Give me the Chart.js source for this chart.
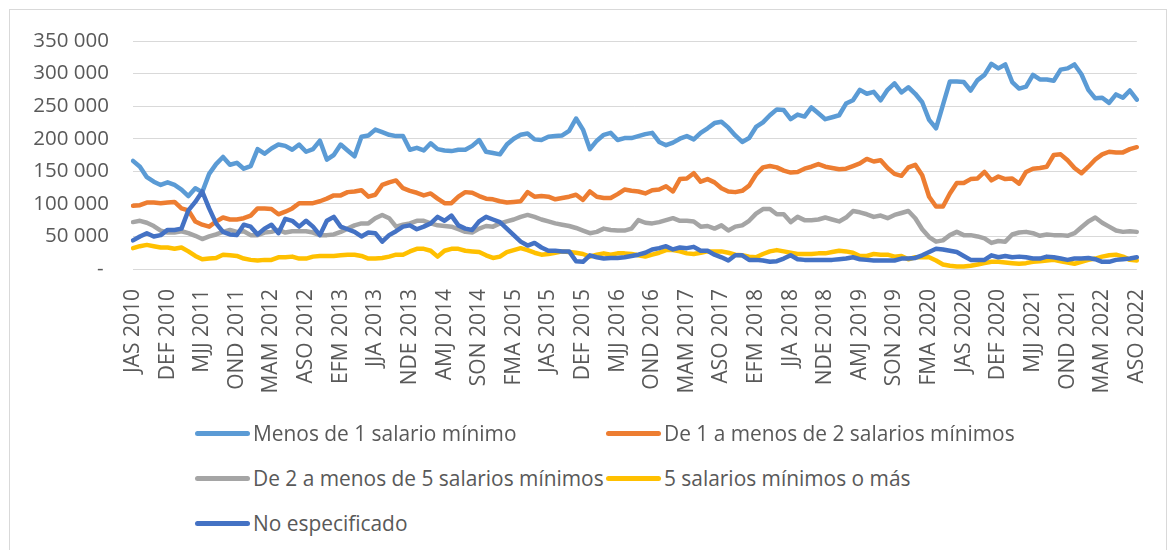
<!DOCTYPE html>
<html>
<head>
<meta charset="utf-8">
<script src="https://cdn.jsdelivr.net/npm/chart.js@4.4.1/dist/chart.umd.min.js"></script>
<style>
  body { margin: 0; background: #fff; font-family: 'Open Sans', sans-serif; }
  #frame { position: absolute; left: 9px; top: 9px; width: 1156px; height: 560px; border: 1px solid #d9d9d9; }
  #myChart { position: absolute; left: 0; top: 0; }
  .item { position: absolute; display: flex; align-items: center; font-size: 20.9px; color: #595959; white-space: nowrap; }
  .swatch { width: 55px; height: 5px; border-radius: 3px; margin-right: 3px; }
</style>
</head>
<body>
<div id="frame"></div>
<canvas id="myChart" width="1174" height="420"></canvas>
<div id="legend"></div>
<script>
// rolling quarters JAS 2010 .. ASO 2022, year = year of first month
const quarterCodes = ['EFM', 'FMA', 'MAM', 'AMJ', 'MJJ', 'JJA', 'JAS', 'ASO', 'SON', 'OND', 'NDE', 'DEF'];
const labels = [];
for (let m = 6; m <= 12 * 12 + 7; m++) {
    labels.push(quarterCodes[m % 12] + ' ' + (2010 + Math.floor(m / 12)));
}

const menos1 = [166000, 157000, 141000, 134000, 129000, 133000, 129000, 122000, 112000, 124000,
    118000, 146000, 161000, 172000, 160000, 163000, 154000, 158000, 184000, 177000,
    185000, 191000, 189000, 183000, 191000, 180000, 184000, 197000, 168000, 175000,
    191000, 182000, 173000, 203000, 205000, 214000, 210000, 206000, 204000, 204000,
    183000, 186000, 182000, 193000, 184000, 182000, 181000, 183000, 183000, 189000,
    198000, 180000, 178000, 176000, 191000, 200000, 206000, 208000, 199000, 198000,
    203000, 204000, 205000, 212000, 231000, 214000, 184000, 197000, 206000, 209000,
    198000, 201000, 201000, 204000, 207000, 209000, 195000, 190000, 194000, 200000,
    204000, 199000, 209000, 216000, 224000, 226000, 217000, 205000, 195000, 201000,
    218000, 225000, 236000, 245000, 244000, 230000, 237000, 234000, 248000, 239000,
    230000, 233000, 236000, 254000, 259000, 275000, 269000, 272000, 259000, 275000,
    285000, 271000, 279000, 269000, 256000, 229000, 216000, 252000, 288000, 288000,
    287000, 274000, 290000, 298000, 315000, 308000, 314000, 287000, 277000, 280000,
    298000, 291000, 291000, 289000, 306000, 308000, 314000, 299000, 275000, 262000,
    263000, 255000, 268000, 263000, 274000, 260000];

const de1a2 = [97000, 98000, 102000, 102000, 101000, 102000, 103000, 93000, 90000, 73000,
    68000, 65000, 73000, 79000, 76000, 76000, 78000, 82000, 93000, 93000,
    92000, 84000, 88000, 93000, 101000, 101000, 101000, 104000, 108000, 113000,
    113000, 118000, 119000, 121000, 111000, 114000, 129000, 133000, 136000, 124000,
    120000, 117000, 113000, 116000, 108000, 101000, 101000, 111000, 118000, 117000,
    112000, 108000, 107000, 104000, 102000, 103000, 104000, 118000, 111000, 112000,
    111000, 107000, 109000, 111000, 114000, 106000, 119000, 111000, 109000, 109000,
    115000, 122000, 120000, 119000, 116000, 121000, 122000, 127000, 119000, 138000,
    139000, 147000, 134000, 138000, 133000, 124000, 119000, 118000, 120000, 128000,
    145000, 156000, 158000, 156000, 151000, 148000, 149000, 154000, 157000, 161000,
    157000, 155000, 153000, 154000, 158000, 162000, 169000, 165000, 167000, 155000,
    146000, 143000, 156000, 160000, 144000, 111000, 96000, 96000, 116000, 132000,
    132000, 138000, 139000, 149000, 136000, 142000, 138000, 139000, 131000, 149000,
    154000, 155000, 157000, 175000, 176000, 167000, 155000, 147000, 157000, 168000,
    176000, 180000, 179000, 179000, 184000, 187000];

const de2a5 = [72000, 74000, 71000, 66000, 59000, 56000, 56000, 58000, 55000, 51000,
    46000, 50000, 53000, 57000, 60000, 57000, 58000, 52000, 52000, 56000,
    57000, 60000, 56000, 58000, 58000, 58000, 56000, 52000, 52000, 53000,
    57000, 62000, 67000, 70000, 70000, 78000, 83000, 78000, 65000, 68000,
    70000, 74000, 74000, 70000, 67000, 66000, 65000, 61000, 57000, 56000,
    62000, 66000, 65000, 70000, 73000, 76000, 80000, 83000, 80000, 76000,
    73000, 70000, 68000, 66000, 63000, 59000, 55000, 57000, 62000, 60000,
    59000, 59000, 62000, 75000, 71000, 70000, 72000, 75000, 78000, 74000,
    74000, 73000, 65000, 66000, 62000, 67000, 59000, 65000, 67000, 74000,
    85000, 92000, 92000, 84000, 84000, 72000, 80000, 75000, 75000, 76000,
    79000, 76000, 73000, 79000, 89000, 87000, 84000, 80000, 82000, 78000,
    83000, 86000, 89000, 78000, 61000, 49000, 42000, 44000, 52000, 57000,
    52000, 52000, 50000, 47000, 40000, 43000, 42000, 53000, 56000, 57000,
    55000, 51000, 53000, 52000, 52000, 51000, 55000, 64000, 73000, 79000,
    71000, 65000, 59000, 57000, 58000, 57000];

const cincoOMas = [32000, 35000, 37000, 35000, 33000, 33000, 31000, 33000, 27000, 20000,
    15000, 16000, 17000, 22000, 21000, 20000, 16000, 14000, 13000, 14000,
    14000, 18000, 18000, 19000, 16000, 16000, 19000, 20000, 20000, 20000,
    21000, 22000, 22000, 20000, 16000, 16000, 17000, 19000, 22000, 22000,
    27000, 31000, 31000, 28000, 19000, 28000, 31000, 31000, 28000, 27000,
    26000, 21000, 17000, 19000, 26000, 29000, 32000, 29000, 25000, 22000,
    23000, 25000, 27000, 26000, 25000, 23000, 19000, 22000, 24000, 22000,
    24000, 24000, 23000, 21000, 19000, 22000, 25000, 29000, 29000, 27000,
    24000, 23000, 25000, 27000, 27000, 27000, 25000, 22000, 21000, 19000,
    18000, 23000, 27000, 29000, 27000, 25000, 23000, 23000, 23000, 24000,
    24000, 26000, 28000, 27000, 25000, 20000, 20000, 23000, 22000, 22000,
    19000, 20000, 15000, 18000, 18000, 18000, 13000, 7000, 5000, 4000,
    4000, 5000, 7000, 9000, 11000, 11000, 10000, 9000, 8000, 9000,
    11000, 12000, 13000, 14000, 12000, 10000, 8000, 11000, 14000, 16000,
    19000, 21000, 22000, 19000, 14000, 13000];

const noEspecificado = [44000, 50000, 55000, 50000, 52000, 60000, 60000, 62000, 90000, 103000,
    119000, 93000, 70000, 57000, 53000, 52000, 68000, 65000, 53000, 62000,
    68000, 55000, 77000, 74000, 65000, 74000, 65000, 52000, 74000, 80000,
    65000, 61000, 57000, 50000, 56000, 55000, 42000, 52000, 58000, 65000,
    67000, 61000, 65000, 70000, 80000, 74000, 82000, 67000, 62000, 60000,
    73000, 80000, 76000, 72000, 62000, 52000, 42000, 36000, 40000, 33000,
    28000, 28000, 27000, 27000, 12000, 11000, 21000, 18000, 16000, 17000,
    17000, 18000, 20000, 22000, 25000, 30000, 32000, 35000, 30000, 33000,
    32000, 34000, 28000, 28000, 22000, 18000, 13000, 21000, 21000, 14000,
    14000, 13000, 11000, 12000, 16000, 21000, 15000, 14000, 14000, 14000,
    14000, 14000, 15000, 16000, 18000, 15000, 14000, 13000, 13000, 13000,
    13000, 16000, 16000, 17000, 21000, 26000, 31000, 30000, 28000, 26000,
    20000, 14000, 14000, 14000, 21000, 18000, 20000, 18000, 19000, 18000,
    16000, 16000, 19000, 18000, 16000, 14000, 16000, 16000, 17000, 15000,
    11000, 11000, 14000, 15000, 16000, 18000];

const seriesNames = ['Menos de 1 salario mínimo', 'De 1 a menos de 2 salarios mínimos',
    'De 2 a menos de 5 salarios mínimos', '5 salarios mínimos o más', 'No especificado'];
const seriesData = [menos1, de1a2, de2a5, cincoOMas, noEspecificado];
const colors = ['#5B9BD5', '#ED7D31', '#A5A5A5', '#FFC000', '#4472C4'];

const tickColor = '#595959';
const fontFamily = "'Open Sans', sans-serif";

function fmt(v) {
    if (v === 0) return '- ';
    return String(v).replace(/\B(?=(\d{3})+(?!\d))/g, ' ');
}

var ctx = document.getElementById('myChart').getContext('2d');

var myChart = new Chart(ctx, {
    type: 'line',
    data: {
        labels: labels,
        datasets: seriesNames.map((name, i) => ({
            label: name,
            data: seriesData[i],
            borderColor: colors[i],
            backgroundColor: colors[i],
            borderWidth: 4.5,
            pointRadius: 0,
            tension: 0,
            borderJoinStyle: 'round',
            borderCapStyle: 'round',
            order: seriesNames.length - i
        }))
    },
    options: {
        responsive: false,
        animation: false,
        layout: { padding: { top: 41, right: 13, left: 0, bottom: 0 } },
        plugins: {
            legend: { display: false },
            tooltip: { enabled: false }
        },
        scales: {
            x: {
                grid: { display: false },
                border: { display: false },
                ticks: {
                    autoSkip: false,
                    maxRotation: 90,
                    minRotation: 90,
                    padding: 12,
                    color: tickColor,
                    font: { family: fontFamily, size: 21 },
                    callback: (v, i) => (i % 5 === 0 ? labels[i] : '')
                },
                afterFit: s => { s.height = 151; }
            },
            y: {
                min: 0,
                max: 350000,
                grid: { color: '#d9d9d9', lineWidth: 1, drawTicks: false },
                border: { display: false },
                ticks: {
                    stepSize: 50000,
                    padding: 24,
                    color: tickColor,
                    font: { family: fontFamily, size: 20.5 },
                    callback: v => fmt(v)
                },
                afterFit: s => { s.width = 133; }
            }
        }
    }
});

// legend in two columns below the plot
const legend = document.getElementById('legend');
myChart.data.datasets.forEach((ds, i) => {
    const item = document.createElement('div');
    item.className = 'item';
    item.style.left = (195 + (i % 2) * 411) + 'px';
    item.style.top = (433 - 14 + Math.floor(i / 2) * 45) + 'px';
    const sw = document.createElement('span');
    sw.className = 'swatch';
    sw.style.background = ds.borderColor;
    item.appendChild(sw);
    item.appendChild(document.createTextNode(ds.label));
    legend.appendChild(item);
});
</script>
</body>
</html>
